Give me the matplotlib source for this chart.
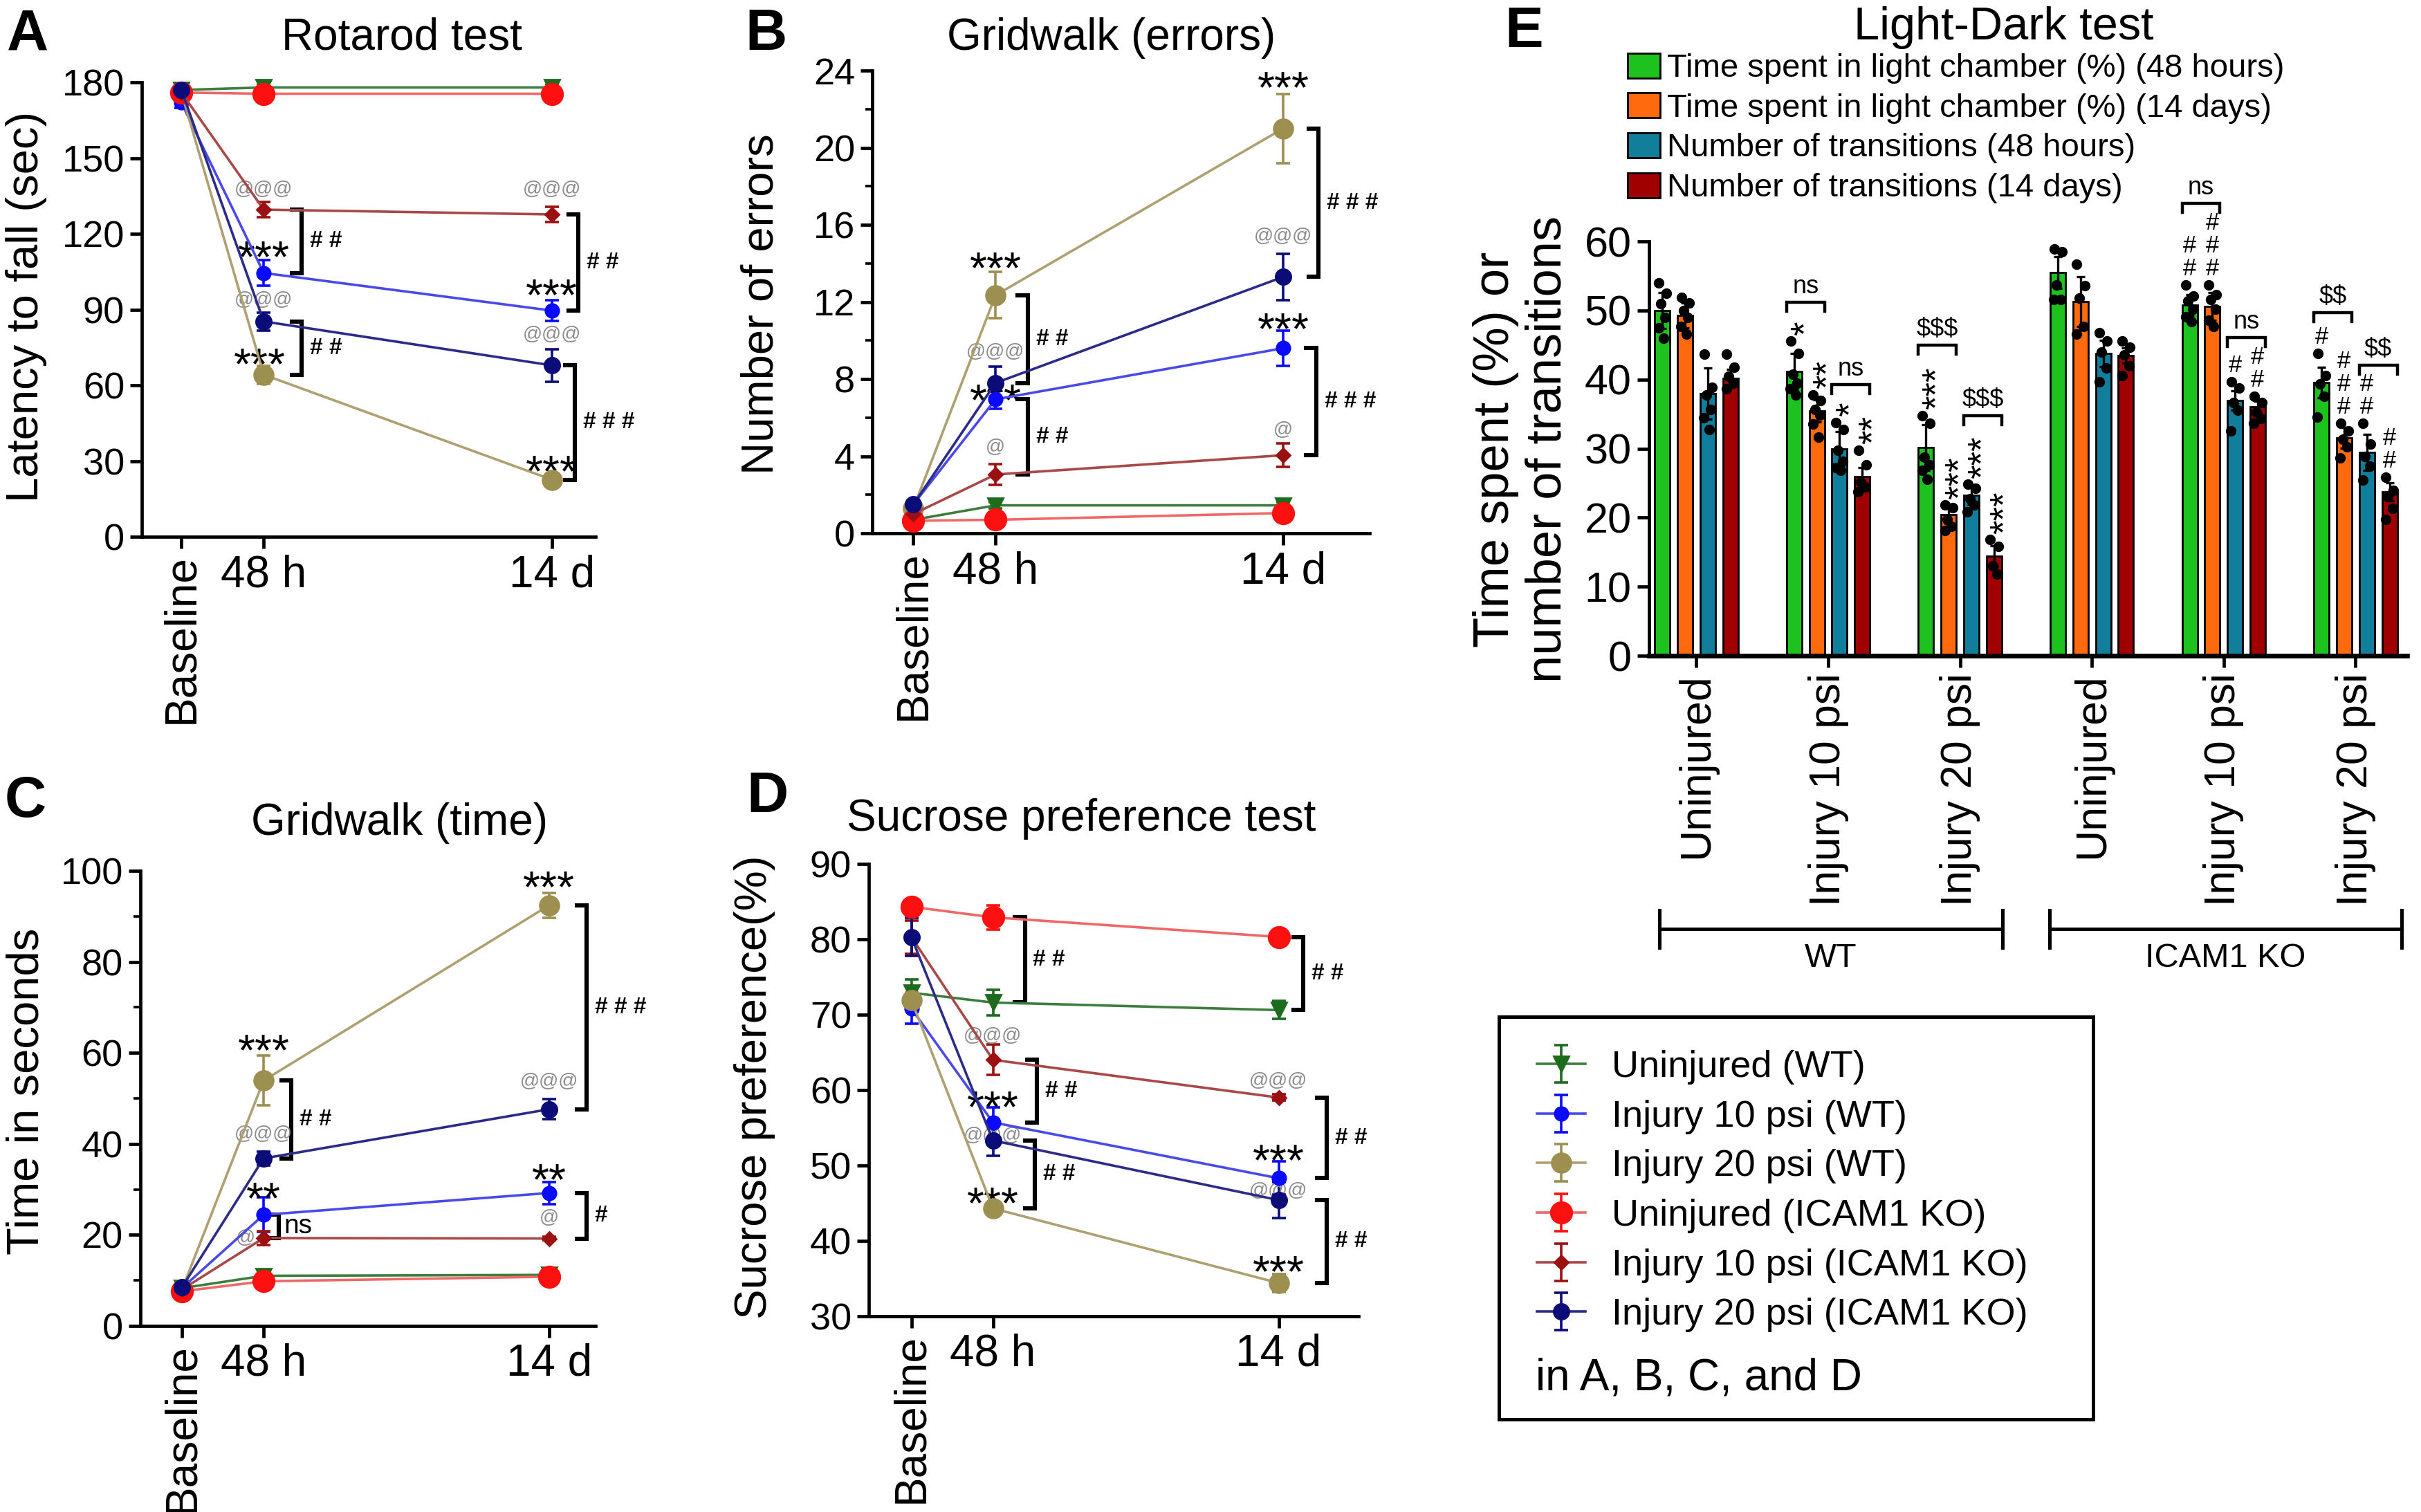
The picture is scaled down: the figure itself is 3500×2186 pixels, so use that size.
import matplotlib
matplotlib.use("Agg")
import matplotlib.pyplot as plt
import matplotlib.transforms as mtransforms
from matplotlib.patches import Rectangle
from matplotlib.ticker import MultipleLocator

plt.rcParams['font.family'] = ['Liberation Sans', 'DejaVu Sans']

# ---------------- data: line panels A-D ----------------
time_labels = ["Baseline", "48 h", "14 d"]
time_pos = [0, 1, 4.5]

group_names = ["Uninjured (WT)", "Injury 10 psi (WT)", "Injury 20 psi (WT)",
               "Uninjured (ICAM1 KO)", "Injury 10 psi (ICAM1 KO)", "Injury 20 psi (ICAM1 KO)"]
WTU, WT10, WT20, KOU, KO10, KO20 = range(6)

rotarod_mean = [[177, 178, 178], [172, 104.5, 89.6], [176, 64.2, 22.6],
                [176, 175.5, 175.5], [176, 129.6, 127.7], [177, 85.3, 67.9]]
rotarod_err = [[1.5, 1, 1], [2, 5, 4], [1.5, 3.5, 1.5],
               [1, 1.5, 1.5], [1, 3, 3], [1.5, 3.5, 6.5]]

grid_errors_mean = [[0.7, 1.45, 1.45], [1.5, 6.95, 9.6], [1.3, 12.35, 21.0],
                    [0.65, 0.7, 1.05], [1.0, 3.05, 4.05], [1.5, 7.8, 13.3]]
grid_errors_err = [[0.1, 0.15, 0.15], [0.2, 0.5, 0.9], [0.2, 1.2, 1.8],
                   [0.1, 0.1, 0.1], [0.15, 0.55, 0.6], [0.2, 0.85, 1.2]]

grid_time_mean = [[8.3, 11.0, 11.2], [8.3, 24.4, 29.2], [8.0, 53.9, 92.4],
                  [7.6, 9.8, 10.8], [8.0, 19.3, 19.2], [8.5, 36.8, 47.6]]
grid_time_err = [[0.5, 0.6, 0.5], [0.6, 3.8, 2.4], [0.6, 5.5, 2.7],
                 [0.5, 0.8, 0.8], [0.5, 1.5, 0.4], [0.6, 1.5, 2.2]]

sucrose_mean = [[72.9, 71.6, 70.6], [70.8, 55.7, 48.3], [71.9, 44.3, 34.4],
                [84.3, 82.9, 80.3], [80.3, 64.0, 59.0], [80.3, 53.3, 45.4]]
sucrose_err = [[1.8, 1.7, 1.2], [2.0, 2.0, 2.2], [1.0, 0.7, 1.2],
               [0.6, 1.6, 0.6], [2.2, 2.0, 0.4], [2.5, 2.0, 2.4]]

# ---------------- data: bar panel E ----------------
e_groups = ["Uninjured", "Injury 10 psi", "Injury 20 psi",
            "Uninjured", "Injury 10 psi", "Injury 20 psi"]
e_series = ["Time spent in light chamber (%) (48 hours)",
            "Time spent in light chamber (%) (14 days)",
            "Number of transitions (48 hours)",
            "Number of transitions (14 days)"]

light_48h_mean = [50.0, 41.2, 30.2, 55.5, 50.8, 39.6]
light_14d_mean = [49.3, 35.5, 20.4, 51.3, 50.6, 31.6]
trans_48h_mean = [38.0, 30.0, 23.2, 43.8, 37.0, 29.5]
trans_14d_mean = [40.2, 26.0, 14.4, 43.5, 36.1, 23.7]

light_48h_sd = [2.6, 2.6, 3.3, 2.3, 1.5, 2.2]
light_14d_sd = [1.8, 1.6, 1.3, 3.6, 2.0, 1.5]
trans_48h_sd = [3.7, 2.5, 1.3, 1.9, 1.4, 2.6]
trans_14d_sd = [1.3, 1.3, 1.5, 1.1, 0.8, 1.3]

light_48h_pts = [[54.0, 52.5, 51.0, 49.0, 47.5, 46.0], [45.6, 43.8, 40.8, 39.5, 38.7, 37.8],
                 [34.8, 33.7, 28.8, 27.7, 26.9, 25.6], [58.9, 58.5, 53.7, 51.6, 51.6],
                 [53.7, 52.1, 51.4, 50.2, 49.1, 48.4], [43.8, 40.6, 39.4, 37.6, 34.6]]
light_14d_pts = [[51.9, 51.1, 50.0, 49.0, 47.7, 46.6], [37.8, 37.0, 35.7, 34.9, 33.6, 31.7],
                 [21.8, 21.4, 19.7, 18.7, 18.1], [56.7, 53.6, 51.8, 47.7, 46.6],
                 [53.7, 52.3, 51.6, 50.2, 48.6, 47.7], [33.7, 32.6, 31.4, 30.3, 28.7]]
trans_48h_pts = [[43.7, 38.9, 37.8, 35.7, 34.5, 32.8], [33.8, 32.8, 29.8, 28.2, 27.3, 26.9],
                 [24.8, 24.2, 22.7, 21.8, 20.8], [46.8, 45.6, 44.0, 41.7, 39.7],
                 [39.7, 38.8, 36.7, 35.6, 32.6], [33.7, 30.7, 28.9, 27.5, 25.5]]
trans_14d_pts = [[43.7, 41.8, 40.5, 39.5, 38.7], [29.8, 27.7, 25.2, 24.4, 23.7],
                 [16.8, 15.8, 13.0, 11.8], [45.6, 44.7, 43.6, 42.0, 40.6],
                 [37.6, 36.7, 35.3, 34.4, 33.7], [25.9, 23.9, 23.0, 21.3, 19.7]]

# significance marks: (time index, group, text, dy, dx)
rotarod_marks = [(1, KO10, '@@@', 8, 0), (1, WT10, '***', 10, 0), (1, KO20, '@@@', 8.5, 0),
                 (1, WT20, '***', 8, -0.05), (2, KO10, '@@@', 10, 0), (2, WT10, '***', 10, 0),
                 (2, KO20, '@@@', 12, 0), (2, WT20, '***', 7, 0)]
rotarod_brackets = [(1, KO10, WT10, '# #', 0.46), (1, KO20, WT20, '# #', 0.46),
                    (2, KO10, WT10, '# #', 0.32), (2, KO20, WT20, '# # #', 0.28)]

grid_errors_marks = [(1, WT20, '***', 1.9, 0), (1, KO20, '@@@', 1.6, 0), (1, WT10, '***', 0.45, 0),
                     (1, KO10, '@', 1.4, 0), (2, WT20, '***', 2.6, 0), (2, KO20, '@@@', 2.1, 0),
                     (2, WT10, '***', 1.5, 0), (2, KO10, '@', 1.3, 0)]
grid_errors_brackets = [(1, WT20, KO20, '# #', 0.39), (1, WT10, KO10, '# #', 0.39),
                        (2, WT20, KO20, '# # #', 0.43), (2, WT10, KO10, '# # #', 0.4)]

grid_time_marks = [(1, WT20, '***', 8.7, 0), (1, KO20, '@@@', 5.3, 0), (1, WT10, '**', 5.6, 0),
                   (1, KO10, '@', 0, -0.22), (2, WT20, '***', 6, 0), (2, KO20, '@@@', 6, 0),
                   (2, WT10, '**', 5, 0), (2, KO10, '@', 4.5, 0)]
grid_time_brackets = [(1, WT20, KO20, '# #', 0.34), (1, WT10, KO10, 'ns', 0.19),
                      (2, WT20, KO20, '# # #', 0.46), (2, WT10, KO10, '#', 0.46)]

sucrose_marks = [(1, KO10, '@@@', 3.1, 0), (1, WT10, '***', 3.3, 0), (1, KO20, '@@@', 0.6, 0),
                 (1, WT20, '***', 1.9, 0), (2, KO10, '@@@', 2.2, 0), (2, WT10, '***', 3.6, 0),
                 (2, KO20, '@@@', 1.2, 0), (2, WT20, '***', 2.7, 0)]
sucrose_brackets = [(1, KOU, WTU, '# #', 0.39), (1, KO10, WT10, '# #', 0.54),
                    (1, KO20, WT20, '# #', 0.51), (2, KOU, WTU, '# #', 0.3),
                    (2, KO10, WT10, '# #', 0.59), (2, KO20, WT20, '# #', 0.59)]

# E marks above bars: (group, series, text)
e_marks = [(1, 0, '*'), (1, 1, '**'), (1, 2, '*'), (1, 3, '**'),
           (2, 0, '***'), (2, 1, '***'), (2, 2, '***'), (2, 3, '***'),
           (4, 0, '##'), (4, 1, '###'), (4, 2, '#'), (4, 3, '##'),
           (5, 0, '#'), (5, 1, '###'), (5, 2, '##'), (5, 3, '##')]
# E brackets: (group, series a, series b, text, height)
e_brackets = [(1, 0, 1, 'ns', 51.2), (1, 2, 3, 'ns', 39.3),
              (2, 0, 1, '$$$', 45.0), (2, 2, 3, '$$$', 34.8),
              (4, 0, 1, 'ns', 65.5), (4, 2, 3, 'ns', 46.1),
              (5, 0, 1, '$$', 49.7), (5, 2, 3, '$$', 42.1)]

# ---------------- styles ----------------
styles = [
    dict(mc='#1d6b1d', lc='#3d7d3d', marker='v', ms=8),
    dict(mc='#0a0aff', lc='#4a4ae8', marker='o', ms=7),
    dict(mc='#9c8f50', lc='#aea070', marker='o', ms=10),
    dict(mc='#ff1010', lc='#ee6868', marker='o', ms=11),
    dict(mc='#9b1010', lc='#a84848', marker='D', ms=5),
    dict(mc='#0c0c78', lc='#2c2c88', marker='o', ms=8),
]
e_colors = ['#1ec21e', '#ff6a0e', '#117f9c', '#a00000']
AT_GRAY = '#8c8c8c'

fig = plt.figure(figsize=(17.5, 10.93), dpi=200)


def style_axes(ax, labelsize):
    for s in ('top', 'right'):
        ax.spines[s].set_visible(False)
    for s in ('left', 'bottom'):
        ax.spines[s].set_linewidth(1.7)
    ax.tick_params(direction='out', length=6, width=1.7, labelsize=labelsize, pad=3)
    ax.tick_params(which='minor', direction='out', length=3.5, width=1.3)


def line_panel(rect, mean, err, ylim, ystep, minor, xlim, marks, brackets,
               letter, letter_xy, title, title_xy, ylabel, ylabel_xy):
    ax = fig.add_axes(rect)
    handles = []
    for g in range(6):
        st = styles[g]
        h = ax.errorbar(time_pos, mean[g], yerr=err[g], color=st['lc'], lw=1.3,
                        marker=st['marker'], ms=st['ms'], mfc=st['mc'], mec=st['mc'],
                        ecolor=st['mc'], elinewidth=1.3, capsize=3.5, capthick=1.3,
                        clip_on=False, zorder=3)
        handles.append(h)
    ax.set_xlim(*xlim)
    ax.set_ylim(*ylim)
    ax.set_yticks(range(ylim[0], ylim[1] + 1, ystep))
    if minor:
        ax.yaxis.set_minor_locator(MultipleLocator(minor))
    style_axes(ax, 19.5)
    ax.set_xticks(time_pos)
    ax.set_xticklabels(time_labels, fontsize=23)
    lab = ax.get_xticklabels()[0]
    lab.set_rotation(90)
    lab.set_va('top')

    for t, g, txt, dy, dx in marks:
        x = time_pos[t] + dx
        y = mean[g][t] + dy
        if txt.startswith('*'):
            ax.annotate(txt, (x, y), xytext=(0, -0.55 * 23), textcoords='offset points',
                        ha='center', va='baseline', fontsize=23, annotation_clip=False)
        else:
            ax.text(x, y, txt, ha='center', va='center', fontsize=10,
                    color=AT_GRAY, clip_on=False)

    for t, g1, g2, txt, dx in brackets:
        x = time_pos[t] + dx
        y1, y2 = mean[g1][t], mean[g2][t]
        ax.plot([x - 0.12, x, x, x - 0.12], [y1, y1, y2, y2], color='black',
                lw=2.2, clip_on=False, solid_joinstyle='miter')
        if txt == 'ns':
            ax.text(x + 0.06, (y1 + y2) / 2, txt, ha='left', va='center',
                    fontsize=14, clip_on=False)
        else:
            ax.text(x + 0.1, (y1 + y2) / 2, txt, ha='left', va='center',
                    fontsize=12, fontweight='bold', clip_on=False)

    fig.text(*letter_xy, letter, fontsize=30, fontweight='bold', ha='center', va='center')
    fig.text(*title_xy, title, fontsize=23, ha='center', va='center')
    fig.text(*ylabel_xy, ylabel, fontsize=23.5, rotation=90, ha='center', va='center')
    return ax, handles


axA, legend_handles = line_panel(
    [0.0586, 0.645, 0.1874, 0.3005], rotarod_mean, rotarod_err, (0, 180), 30, None,
    (-0.48, 5.03), rotarod_marks, rotarod_brackets,
    'A', (0.0115, 0.977), 'Rotarod test', (0.166, 0.975),
    'Latency to fall (sec)', (0.011, 0.797))

line_panel([0.3603, 0.6473, 0.2054, 0.306], grid_errors_mean, grid_errors_err, (0, 24), 4, 2,
           (-0.5, 5.55), grid_errors_marks, grid_errors_brackets,
           'B', (0.3163, 0.977), 'Gridwalk (errors)', (0.459, 0.975),
           'Number of errors', (0.3143, 0.799))

line_panel([0.058, 0.1231, 0.188, 0.301], grid_time_mean, grid_time_err, (0, 100), 20, 10,
           (-0.51, 5.07), grid_time_marks, grid_time_brackets,
           'C', (0.0105, 0.470), 'Gridwalk (time)', (0.1649, 0.4556),
           'Time in seconds', (0.011, 0.278))

line_panel([0.3589, 0.1295, 0.2023, 0.2992], sucrose_mean, sucrose_err, (30, 90), 10, None,
           (-0.52, 5.48), sucrose_marks, sucrose_brackets,
           'D', (0.3171, 0.473), 'Sucrose preference test', (0.4466, 0.4584),
           'Sucrose preference(%)', (0.3117, 0.281))

# ---------------- panel E ----------------
axE = fig.add_axes([0.6811, 0.5663, 0.3131, 0.274])
means = [light_48h_mean, light_14d_mean, trans_48h_mean, trans_14d_mean]
sds = [light_48h_sd, light_14d_sd, trans_48h_sd, trans_14d_sd]
pts = [light_48h_pts, light_14d_pts, trans_48h_pts, trans_14d_pts]
pitch, width = 0.172, 0.115
offsets = [(-1.5 + i) * pitch for i in range(4)]
jitter = [-0.028, 0.03, -0.012, 0.022, -0.03, 0.01]
xg = list(range(len(e_groups)))

bar_handles = []
for i in range(4):
    xs = [x + offsets[i] for x in xg]
    b = axE.bar(xs, means[i], width=width, color=e_colors[i], edgecolor='black',
                linewidth=1.0, yerr=sds[i], capsize=2.2, zorder=2,
                error_kw=dict(elinewidth=1.2, capthick=1.2, ecolor='black', zorder=3),
                label=e_series[i])
    bar_handles.append(b)
    for gi, x in enumerate(xs):
        vals = pts[i][gi]
        axE.plot([x + jitter[k % len(jitter)] for k in range(len(vals))], vals, 'o',
                 color='black', ms=4.5, zorder=4, clip_on=False)

# significance symbols above bars (stars written vertically, # stacked)
for g, i, txt in e_marks:
    top = max(max(pts[i][g]), means[i][g] + sds[i][g])
    x = xg[g] + offsets[i]
    if txt[0] == '*':
        axE.annotate(txt, (x, top), xytext=(0.32 * 19, 3), textcoords='offset points',
                     rotation=90, ha='center', va='bottom', fontsize=19,
                     annotation_clip=False)
    else:
        axE.annotate('\n'.join(txt), (x, top), xytext=(0, 5 - 0.21 * 12.5),
                     textcoords='offset points', ha='center', va='bottom', fontsize=12.5,
                     linespacing=1.0, annotation_clip=False)

for g, a, b, txt, h in e_brackets:
    x1 = xg[g] + offsets[a] - width / 2
    x2 = xg[g] + offsets[b] + width / 2
    axE.plot([x1, x1, x2, x2], [h - 1.3, h, h, h - 1.3], color='black', lw=1.6,
             clip_on=False, solid_joinstyle='miter')
    axE.text((x1 + x2) / 2, h + 0.5, txt, ha='center', va='bottom', fontsize=13,
             clip_on=False, parse_math=False)

axE.set_xlim(-0.36, 5.39)
axE.set_ylim(0, 60)
axE.set_yticks(range(0, 61, 10))
style_axes(axE, 22)
axE.set_xticks(xg)
axE.set_xticklabels(e_groups, rotation=90, va='top', ha='center', fontsize=22.5)
axE.spines['bottom'].set_linewidth(2.4)

blend = mtransforms.blended_transform_factory(axE.transData, axE.transAxes)
for x1, x2, name in [(-0.28, 2.32, 'WT'), (2.68, 5.35, 'ICAM1 KO')]:
    axE.plot([x1, x2], [-0.66, -0.66], color='black', lw=1.8, transform=blend, clip_on=False)
    for xx in (x1, x2):
        axE.plot([xx, xx], [-0.705, -0.615], color='black', lw=1.8, transform=blend,
                 clip_on=False)
    axE.text((x1 + x2) / 2, -0.73, name, transform=blend, ha='center', va='center',
             fontsize=17.5)

fig.text(0.6294, 0.979, 'E', fontsize=30, fontweight='bold', ha='center', va='center')
fig.text(0.8277, 0.9817, 'Light-Dark test', fontsize=24, ha='center', va='center')
fig.text(0.6286, 0.7027, 'Time spent (%) or\nnumber of transitions', fontsize=26,
         rotation=90, ha='center', va='center', linespacing=1.15)
fig.legend(handles=bar_handles, labels=e_series, loc='upper left',
           bbox_to_anchor=(0.6723, 0.965), frameon=False, fontsize=17,
           handlelength=1.0, handleheight=0.8, handletextpad=0.2, labelspacing=0.28,
           borderpad=0, borderaxespad=0)

# ---------------- shared legend for A-D ----------------
fig.patches.append(Rectangle((2167 / 3500, 1 - 2052 / 2186), (3026 - 2167) / 3500,
                             (2052 - 1470) / 2186, transform=fig.transFigure,
                             fill=False, lw=1.8, edgecolor='black'))
fig.legend(handles=legend_handles, labels=group_names, loc='upper left',
           bbox_to_anchor=(2222 / 3500, 1 - 1518 / 2186), frameon=False, fontsize=19.5,
           handlelength=1.3, handletextpad=0.7, labelspacing=0.4, borderpad=0,
           borderaxespad=0)
fig.text(2220 / 3500, 1 - 1993 / 2186, 'in A, B, C, and D', fontsize=23,
         ha='left', va='center')

fig.savefig('out.png', dpi=200)
